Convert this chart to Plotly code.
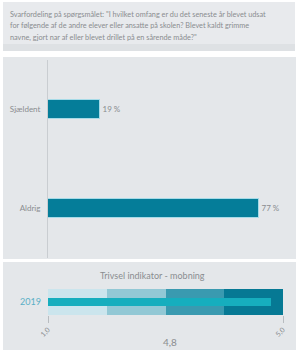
import plotly.graph_objects as go

# ---- data ----
categories = ["Aldrig", "Sjældent"]
values = [77, 19]
value_labels = ["77 %", "19 %"]

indicator_year = ["2019"]
band_edges = [1, 2, 3, 4, 5]
band_colors = ["#cbe5ed", "#92c8d5", "#3a9ab0", "#067994"]
indicator_value = 4.8
indicator_label = "4,8"
tick_vals = [1, 5]
tick_text = ["1,0", "5,0"]

question_lines = [
    'Svarfordeling på spørgsmålet: "I hvilket omfang er du det seneste år blevet udsat',
    'for følgende af de andre elever eller ansatte på skolen? Blevet kaldt grimme',
    'navne, gjort nar af eller blevet drillet på en sårende måde?"',
]
indicator_title = "Trivsel indikator - mobning"

W, H = 296, 352
def px(x):
    return x / W
def py(y):
    return 1 - y / H

FONT = "Lato"
GRAY_TXT = "#8a8d90"

fig = go.Figure()

# main bar chart
fig.add_trace(go.Bar(
    y=categories, x=values, orientation="h", width=0.2,
    marker=dict(color="#057d99", line=dict(color="#a6dbe8", width=1)),
    text=value_labels, textposition="outside", cliponaxis=False,
    textfont=dict(size=8, color=GRAY_TXT, family=FONT),
    xaxis="x", yaxis="y", showlegend=False, hoverinfo="skip",
))

# indicator bands
for i in range(len(band_colors)):
    fig.add_trace(go.Bar(
        y=indicator_year, x=[band_edges[i + 1] - band_edges[i]], base=[band_edges[i]],
        orientation="h", width=1.0, marker=dict(color=band_colors[i], line=dict(width=0)),
        xaxis="x2", yaxis="y2", showlegend=False, hoverinfo="skip",
    ))
# indicator value bar
fig.add_trace(go.Bar(
    y=indicator_year, x=[indicator_value - band_edges[0]], base=[band_edges[0]],
    orientation="h", width=0.31, marker=dict(color="#16aebe", line=dict(width=0)),
    xaxis="x2", yaxis="y2", showlegend=False, hoverinfo="skip",
))

shapes = [
    # top box
    dict(type="rect", xref="paper", yref="paper", x0=px(3), x1=px(295), y0=py(44), y1=py(2),
         fillcolor="#e8eaed", line=dict(width=0), layer="below"),
    dict(type="rect", xref="paper", yref="paper", x0=px(3), x1=px(295), y0=py(51), y1=py(44),
         fillcolor="#dee1e4", line=dict(width=0), layer="below"),
    # middle panel
    dict(type="rect", xref="paper", yref="paper", x0=px(3), x1=px(296), y0=py(259), y1=py(57),
         fillcolor="#e4e7ea", line=dict(width=0), layer="below"),
    # bottom panel
    dict(type="rect", xref="paper", yref="paper", x0=px(3), x1=px(296), y0=py(350), y1=py(262),
         fillcolor="#e4e7ea", line=dict(width=0), layer="below"),
]

annotations = []
for i, line in enumerate(question_lines):
    annotations.append(dict(
        text=line, xref="paper", yref="paper", x=px(8), y=py(15 + 11 * i),
        xanchor="left", yanchor="middle", showarrow=False,
        font=dict(size=7.3, color=GRAY_TXT, family=FONT),
    ))
annotations.append(dict(
    text=indicator_title, xref="paper", yref="paper", x=px(152), y=py(275),
    xanchor="center", yanchor="middle", showarrow=False,
    font=dict(size=9, color=GRAY_TXT, family=FONT),
))
annotations.append(dict(
    text=indicator_label, xref="paper", yref="paper", x=px(170), y=py(342),
    xanchor="center", yanchor="middle", showarrow=False,
    font=dict(size=10, color=GRAY_TXT, family=FONT),
))

fig.update_layout(
    width=W, height=H, margin=dict(l=0, r=0, t=0, b=0),
    paper_bgcolor="white", plot_bgcolor="rgba(0,0,0,0)",
    barmode="overlay", bargap=0,
    shapes=shapes, annotations=annotations,
    font=dict(family=FONT, color=GRAY_TXT),
    xaxis=dict(domain=[px(48), px(295)], range=[0, 90], showgrid=False, zeroline=False,
               showticklabels=False, showline=False, fixedrange=True, automargin=False),
    yaxis=dict(domain=[py(258), py(60)], categoryorder="array", categoryarray=categories,
               showgrid=False, zeroline=False, showline=True, linecolor="#c9cdd1", linewidth=1,
               ticks="", ticklabelstandoff=5, automargin=False,
               tickfont=dict(size=8, color=GRAY_TXT, family=FONT)),
    xaxis2=dict(domain=[px(48), px(283)], range=[1, 5], anchor="y2", showgrid=False,
                zeroline=False, tickvals=tick_vals, ticktext=tick_text, tickangle=-45,
                ticks="outside", ticklen=7, tickcolor="#b8bcc0", tickwidth=1, automargin=False,
                tickfont=dict(size=7, color=GRAY_TXT, family=FONT), showline=False),
    yaxis2=dict(domain=[py(315), py(289)], anchor="x2", showgrid=False, zeroline=False,
                showline=False, ticks="", ticklabelstandoff=6, automargin=False,
                tickfont=dict(size=9, color="#5aafc6", family=FONT)),
)

fig.write_html(
    "out.html",
    config={"displayModeBar": False},
    post_script="document.body.style.margin='0';document.body.style.overflow='hidden';",
)
